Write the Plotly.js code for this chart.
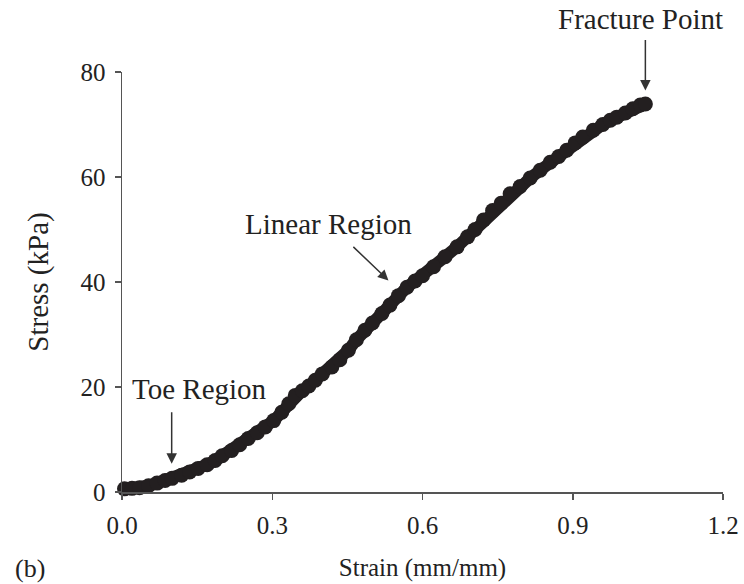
<!DOCTYPE html>
<html>
<head>
<meta charset="utf-8">
<script src="https://cdn.plot.ly/plotly-3.0.1.min.js"></script>
<style>html,body{margin:0;padding:0;background:#fff;}#chart{width:744px;height:584px;}</style>
</head>
<body>
<div id="chart"></div>
<script>
var strain = [0.005,0.02,0.035,0.053,0.07,0.086,0.10,0.119,0.135,0.152,0.17,0.186,0.20,0.219,0.235,0.252,0.27,0.286,0.303,0.319,0.333,0.346,0.36,0.373,0.386,0.40,0.419,0.435,0.452,0.468,0.485,0.50,0.519,0.535,0.552,0.569,0.585,0.60,0.622,0.645,0.669,0.69,0.705,0.722,0.74,0.757,0.775,0.795,0.815,0.835,0.855,0.872,0.888,0.905,0.92,0.941,0.96,0.975,0.988,1.005,1.02,1.035,1.045];
var stress = [0.6,0.7,0.8,1.2,1.7,2.2,2.6,3.2,3.8,4.5,5.2,6.0,6.9,7.9,9.0,10.2,11.3,12.4,13.6,15.2,16.8,18.4,19.3,20.2,21.3,22.5,23.8,25.2,27.0,29.0,30.8,32.2,34.0,35.6,37.4,39.0,40.2,41.2,42.9,44.8,46.7,48.6,50.0,51.8,53.6,55.0,56.8,58.2,59.8,61.3,62.8,63.9,65.1,66.5,67.6,68.9,70.0,70.8,71.4,72.2,73.0,73.7,73.9];
var xTicks = [0, 0.3, 0.6, 0.9, 1.2];
var yTicks = [0, 20, 40, 60, 80];

var serif = '"Liberation Serif", "Times New Roman", serif';
var ink = '#231f20';
var txt = '#222';

var trace = {
  x: strain, y: stress, type: 'scatter', mode: 'lines+markers',
  line: {color: ink, width: 12},
  marker: {color: ink, size: 15},
  cliponaxis: false, hoverinfo: 'x+y'
};

var axisCommon = {
  showgrid: false, zeroline: false, showline: true,
  linecolor: '#555', linewidth: 1.5,
  ticks: 'outside', ticklen: 6, tickwidth: 1.5, tickcolor: '#555',
  tickfont: {family: serif, size: 25, color: txt}
};

var layout = {
  width: 744, height: 584,
  margin: {l: 122, r: 21.3, t: 71.7, b: 92.3},
  paper_bgcolor: '#fff', plot_bgcolor: '#fff',
  showlegend: false,
  font: {family: serif, color: txt},
  xaxis: Object.assign({}, axisCommon, {
    range: [0, 1.2], tickvals: xTicks, ticktext: xTicks.map(function(v){return v.toFixed(1);}),
    ticklabelstandoff: 4,
    title: {text: 'Strain (mm/mm)', font: {family: serif, size: 25, color: txt}, standoff: 21}
  }),
  yaxis: Object.assign({}, axisCommon, {
    range: [0, 80], tickvals: yTicks, ticktext: yTicks.map(String), ticklen: 6,
    ticklabelstandoff: 4,
    title: {text: 'Stress (kPa)', font: {family: serif, size: 29, color: txt}, standoff: 23}
  }),
  annotations: [
    {x: 1.045, y: 76.5, xref: 'x', yref: 'y', ax: 0, ay: -52, text: '', showarrow: true,
     arrowhead: 2, arrowsize: 1.4, arrowwidth: 1.5, arrowcolor: '#333', font: {size: 1}},
    {x: 0.532, y: 40.3, xref: 'x', yref: 'y', ax: -36.6, ay: -35, text: '', showarrow: true,
     arrowhead: 2, arrowsize: 1.4, arrowwidth: 1.5, arrowcolor: '#333', font: {size: 1}},
    {x: 0.0992, y: 5.4, xref: 'x', yref: 'y', ax: 0, ay: -53, text: '', showarrow: true,
     arrowhead: 2, arrowsize: 1.4, arrowwidth: 1.5, arrowcolor: '#333', font: {size: 1}},
    {x: 0.8623, y: 1.1255, xref: 'paper', yref: 'paper', text: 'Fracture Point', showarrow: false,
     xanchor: 'center', yanchor: 'middle', font: {family: serif, size: 29, color: txt}},
    {x: 0.4115, y: 51.0, xref: 'x', yref: 'y', text: 'Linear Region', showarrow: false,
     xanchor: 'center', yanchor: 'middle', font: {family: serif, size: 29, color: txt}},
    {x: 0.154, y: 19.6, xref: 'x', yref: 'y', text: 'Toe Region', showarrow: false,
     xanchor: 'center', yanchor: 'middle', font: {family: serif, size: 29, color: txt}},
    {x: -0.153, y: -0.182, xref: 'paper', yref: 'paper', text: '(b)', showarrow: false,
     xanchor: 'center', yanchor: 'middle', font: {family: serif, size: 26, color: txt}}
  ]
};

Plotly.newPlot('chart', [trace], layout, {displayModeBar: false, staticPlot: true});
</script>
</body>
</html>
